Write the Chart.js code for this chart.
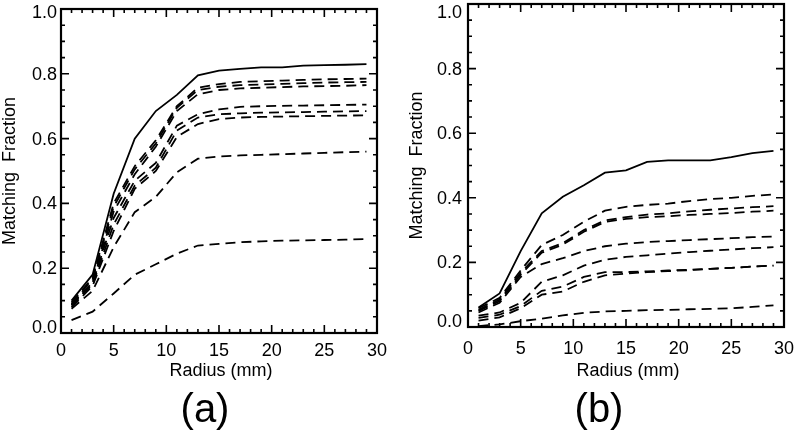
<!DOCTYPE html>
<html>
<head>
<meta charset="utf-8">
<script src="https://cdn.jsdelivr.net/npm/chart.js@4.4.1/dist/chart.umd.min.js"></script>
<style>
  body { margin: 0; background: #fff; }
  #wrap { position: relative; width: 795px; height: 435px; }
  canvas { position: absolute; top: 0; }
  #chartA { left: 0; }
  #chartB { left: 398px; }
</style>
</head>
<body>
<div id="wrap">
  <canvas id="chartA" width="398" height="435"></canvas>
  <canvas id="chartB" width="397" height="435"></canvas>
</div>
<script>
// radius sample points (mm)
const radius = [1, 3, 5, 7, 9, 11, 13, 15, 17, 19, 21, 23, 25, 27, 29];
const xTicks = [0, 5, 10, 15, 20, 25, 30];
const yTicks = [0, 0.2, 0.4, 0.6, 0.8, 1.0];
const yTickLabels = ["0.0", "0.2", "0.4", "0.6", "0.8", "1.0"];

// panel (a)
const aSolid = [0.10, 0.18, 0.43, 0.60, 0.685, 0.735, 0.795, 0.81, 0.815, 0.82, 0.82, 0.825, 0.827, 0.828, 0.83];
const aDash1 = [0.095, 0.17, 0.40, 0.515, 0.595, 0.70, 0.757, 0.768, 0.775, 0.777, 0.779, 0.781, 0.783, 0.784, 0.785];
const aDash2 = [0.09, 0.165, 0.39, 0.505, 0.585, 0.695, 0.75, 0.76, 0.765, 0.767, 0.769, 0.771, 0.773, 0.774, 0.775];
const aDash3 = [0.085, 0.155, 0.375, 0.49, 0.575, 0.685, 0.737, 0.75, 0.755, 0.757, 0.759, 0.761, 0.762, 0.763, 0.765];
const aDash4 = [0.09, 0.155, 0.355, 0.47, 0.525, 0.64, 0.675, 0.69, 0.698, 0.70, 0.701, 0.702, 0.703, 0.704, 0.705];
const aDash5 = [0.085, 0.15, 0.335, 0.455, 0.51, 0.625, 0.665, 0.675, 0.678, 0.68, 0.681, 0.682, 0.683, 0.684, 0.685];
const aDash6 = [0.08, 0.145, 0.315, 0.445, 0.50, 0.605, 0.645, 0.66, 0.665, 0.667, 0.668, 0.669, 0.67, 0.671, 0.672];
const aDash7 = [0.075, 0.13, 0.265, 0.373, 0.42, 0.496, 0.538, 0.545, 0.548, 0.55, 0.552, 0.554, 0.556, 0.558, 0.56];
const aDash8 = [0.04, 0.066, 0.122, 0.18, 0.212, 0.245, 0.27, 0.275, 0.28, 0.283, 0.285, 0.286, 0.287, 0.288, 0.29];

// panel (b)
const bSolid = [0.06, 0.104, 0.235, 0.352, 0.403, 0.439, 0.478, 0.485, 0.511, 0.516, 0.516, 0.516, 0.526, 0.538, 0.545];
const bDash1 = [0.058, 0.09, 0.175, 0.254, 0.285, 0.326, 0.36, 0.372, 0.378, 0.382, 0.39, 0.396, 0.40, 0.406, 0.41];
const bDash2 = [0.053, 0.085, 0.168, 0.235, 0.26, 0.30, 0.33, 0.34, 0.348, 0.352, 0.358, 0.363, 0.367, 0.371, 0.374];
const bDash3 = [0.05, 0.08, 0.162, 0.23, 0.255, 0.295, 0.325, 0.335, 0.34, 0.343, 0.347, 0.35, 0.353, 0.357, 0.36];
const bDash4 = [0.045, 0.075, 0.155, 0.195, 0.213, 0.235, 0.25, 0.258, 0.263, 0.266, 0.269, 0.272, 0.275, 0.278, 0.28];
const bDash5 = [0.035, 0.045, 0.075, 0.14, 0.16, 0.19, 0.208, 0.217, 0.222, 0.227, 0.232, 0.236, 0.24, 0.244, 0.247];
const bDash6 = [0.028, 0.038, 0.065, 0.112, 0.125, 0.155, 0.17, 0.17, 0.172, 0.175, 0.177, 0.18, 0.183, 0.187, 0.19];
const bDash7 = [0.02, 0.03, 0.058, 0.10, 0.11, 0.14, 0.16, 0.165, 0.17, 0.173, 0.176, 0.18, 0.183, 0.187, 0.19];
const bDash8 = [0.003, 0.008, 0.018, 0.026, 0.036, 0.044, 0.048, 0.05, 0.052, 0.053, 0.055, 0.056, 0.058, 0.062, 0.067];

const FONT = "'Liberation Sans', Arial, sans-serif";

function series(values, dashed) {
    return {
        data: values.map((v, i) => ({ x: radius[i], y: v })),
        borderColor: "#000",
        borderWidth: 1.8,
        borderDash: dashed ? [10, 6] : [],
        pointRadius: 0,
        tension: 0,
        fill: false
    };
}

// frame, inward ticks and labels, IDL style
const framePlugin = {
    id: "frame",
    afterDraw(chart, args, opts) {
        const ctx = chart.ctx;
        const area = chart.chartArea;
        const xs = chart.scales.x;
        const ys = chart.scales.y;
        ctx.save();
        ctx.strokeStyle = "#000";
        ctx.fillStyle = "#000";

        // ticks
        ctx.lineWidth = 1.6;
        ctx.beginPath();
        for (let v = 0; v <= 30; v += 1) {
            let px = xs.getPixelForValue(v);
            let len = v % 5 === 0 ? 8 : 4;
            ctx.moveTo(px, area.bottom); ctx.lineTo(px, area.bottom - len);
            ctx.moveTo(px, area.top); ctx.lineTo(px, area.top + len);
        }
        for (let k = 0; k <= 20; k++) {
            let py = ys.getPixelForValue(k * 0.05);
            let len = k % 4 === 0 ? 8 : 4;
            ctx.moveTo(area.left, py); ctx.lineTo(area.left + len, py);
            ctx.moveTo(area.right, py); ctx.lineTo(area.right - len, py);
        }
        ctx.stroke();

        // box
        ctx.lineWidth = 2.2;
        ctx.strokeRect(area.left, area.top, area.right - area.left, area.bottom - area.top);

        // tick labels
        ctx.font = "18px " + FONT;
        ctx.textAlign = "center";
        ctx.textBaseline = "middle";
        xTicks.forEach(v => {
            ctx.fillText(String(v), xs.getPixelForValue(v), area.bottom + opts.xLabelGap);
        });
        ctx.textAlign = "right";
        yTicks.forEach((v, i) => {
            let py = ys.getPixelForValue(v) + 1;
            py = Math.min(Math.max(py, 13), area.bottom - 5);
            ctx.fillText(yTickLabels[i], area.left - opts.yLabelGap, py);
        });

        // axis titles
        ctx.textAlign = "center";
        ctx.fillText("Radius (mm)", (area.left + area.right) / 2 + 2, 371);
        ctx.save();
        ctx.translate(area.left - 51, (area.top + area.bottom) / 2);
        ctx.rotate(-Math.PI / 2);
        ctx.fillText("Matching  Fraction", 0, 0);
        ctx.restore();

        // panel label
        ctx.font = "40px " + FONT;
        ctx.fillText(opts.panel, opts.panelX, 411);
        ctx.restore();
    }
};

function makeChart(id, datasets, pad, extra) {
    return new Chart(document.getElementById(id), {
        type: "line",
        data: { datasets: datasets },
        options: {
            responsive: false,
            animation: false,
            layout: { padding: pad },
            plugins: {
                legend: { display: false },
                tooltip: { enabled: false },
                frame: extra
            },
            scales: {
                x: { type: "linear", min: 0, max: 30, display: false },
                y: { min: 0, max: 1, display: false }
            }
        },
        plugins: [framePlugin]
    });
}

makeChart("chartA", [
    series(aSolid, false), series(aDash1, true), series(aDash2, true), series(aDash3, true),
    series(aDash4, true), series(aDash5, true), series(aDash6, true), series(aDash7, true), series(aDash8, true)
], { left: 61, right: 21, top: 9, bottom: 102 },
   { panel: "(a)", panelX: 205, xLabelGap: 18, yLabelGap: 4 });

makeChart("chartB", [
    series(bSolid, false), series(bDash1, true), series(bDash2, true), series(bDash3, true),
    series(bDash4, true), series(bDash5, true), series(bDash6, true), series(bDash7, true), series(bDash8, true)
], { left: 70, right: 11, top: 4, bottom: 108 },
   { panel: "(b)", panelX: 201, xLabelGap: 22, yLabelGap: 6 });
</script>
</body>
</html>
